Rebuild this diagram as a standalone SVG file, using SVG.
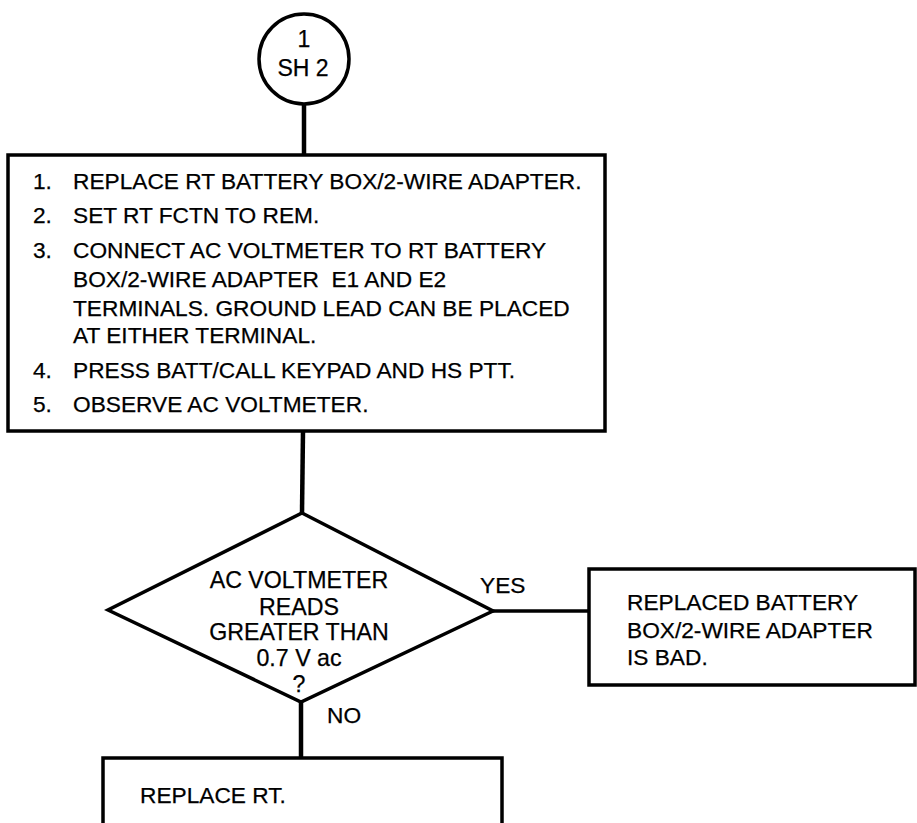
<svg xmlns="http://www.w3.org/2000/svg" width="917" height="823" viewBox="0 0 917 823">
<style>
.shape{fill:#fff;stroke:#000;stroke-width:3.5}
.line{fill:none;stroke:#000;stroke-width:4.5}
text{font-family:"Liberation Sans",Arial,sans-serif;fill:#000;font-size:22.7px;stroke:#000;stroke-width:0.25}
.mid{text-anchor:middle}
.dec{font-size:23.2px}
</style>
<rect width="917" height="823" fill="#fff"/>
<g id="connectors">
<line class="line" x1="304" y1="104" x2="304" y2="156"/>
<line class="line" x1="303" y1="431" x2="302" y2="513"/>
<line class="line" x1="493" y1="611" x2="589" y2="611" style="stroke-width:3.5"/>
<line class="line" x1="301" y1="702" x2="301" y2="758"/>
<text x="480" y="593">YES</text>
<text x="327" y="723">NO</text>
</g>
<g id="start">
<circle class="shape" cx="304" cy="59" r="45"/>
<text class="mid" x="304" y="47" style="font-size:23px">1</text>
<text class="mid" x="303" y="76" style="font-size:23px">SH 2</text>
</g>
<g id="steps">
<rect class="shape" x="8" y="155" width="597" height="276"/>
<text x="33" y="189">1.</text><text x="73" y="189">REPLACE RT BATTERY BOX/2-WIRE ADAPTER.</text>
<text x="33" y="223">2.</text><text x="73" y="223">SET RT FCTN TO REM.</text>
<text x="33" y="258">3.</text><text x="73" y="258">CONNECT AC VOLTMETER TO RT BATTERY</text>
<text x="73" y="287" xml:space="preserve">BOX/2-WIRE ADAPTER  E1 AND E2</text>
<text x="73" y="316">TERMINALS. GROUND LEAD CAN BE PLACED</text>
<text x="73" y="343">AT EITHER TERMINAL.</text>
<text x="33" y="378">4.</text><text x="73" y="378">PRESS BATT/CALL KEYPAD AND HS PTT.</text>
<text x="33" y="412">5.</text><text x="73" y="412">OBSERVE AC VOLTMETER.</text>
</g>
<g id="decision">
<polygon class="shape" points="302,513 493,611 301,702 108,610"/>
<text class="mid dec" x="299" y="588">AC VOLTMETER</text>
<text class="mid dec" x="299" y="615">READS</text>
<text class="mid dec" x="299" y="640">GREATER THAN</text>
<text class="mid dec" x="299" y="666">0.7 V ac</text>
<text class="mid dec" x="299" y="692">?</text>
</g>
<g id="bad-adapter">
<rect class="shape" x="589" y="569" width="326" height="116"/>
<text x="627" y="610">REPLACED BATTERY</text>
<text x="627" y="638">BOX/2-WIRE ADAPTER</text>
<text x="627" y="665">IS BAD.</text>
</g>
<g id="replace-rt">
<rect class="shape" x="103" y="758" width="399" height="80"/>
<text x="140" y="803">REPLACE RT.</text>
</g>
</svg>
